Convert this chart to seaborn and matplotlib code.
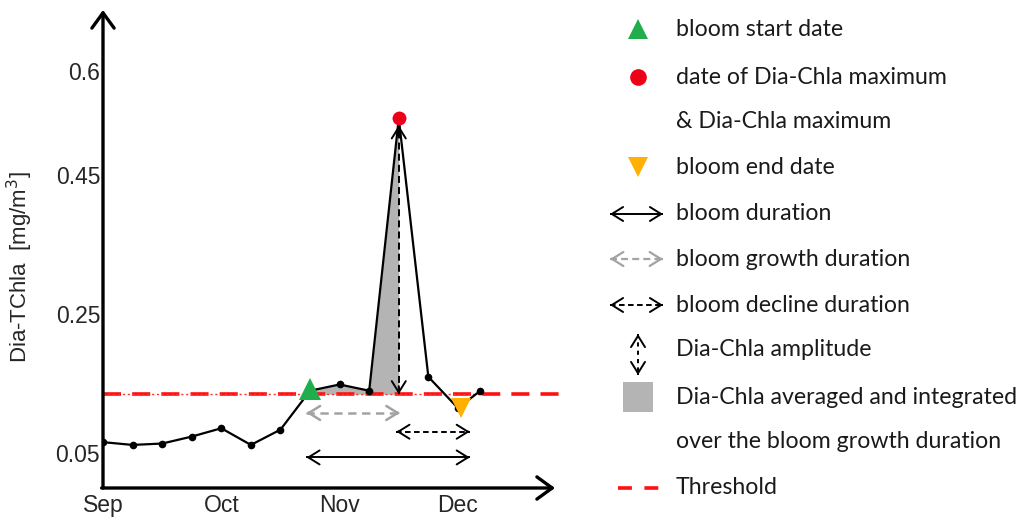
import numpy as np
import pandas as pd
import matplotlib
matplotlib.use("Agg")
import matplotlib.pyplot as plt
import seaborn as sns

# ------------------------------------------
# data (x in months after 1 Sep, 4 points per month)
# ------------------------------------------
months = ["Sep", "Oct", "Nov", "Dec"]
month_pos = [0, 1, 2, 3]
time = [0.0, 0.25, 0.5, 0.75, 1.0, 1.25, 1.5, 1.75, 2.0, 2.25, 2.5, 2.75, 3.0, 3.19]
chla = [0.066, 0.062, 0.064, 0.074, 0.086, 0.062, 0.084, 0.140, 0.149, 0.140, 0.532, 0.160, 0.115, 0.140]
threshold = 0.135

i_start, i_peak, i_end = 7, 10, 12
growth_arrow = [1.72, 2.51]
decline_arrow = [2.48, 3.10]
duration_arrow = [1.72, 3.10]

y_major = [0.05, 0.25, 0.45, 0.6]
y_minor = [0.01, 0.09, 0.13, 0.17, 0.21, 0.29, 0.33, 0.37, 0.41, 0.48, 0.51, 0.54, 0.57]

legend_labels = ["bloom start date", "date of Dia-Chla maximum", "& Dia-Chla maximum",
                 "bloom end date", "bloom duration", "bloom growth duration",
                 "bloom decline duration", "Dia-Chla amplitude",
                 "Dia-Chla averaged and integrated", "over the bloom growth duration",
                 "Threshold"]

df = pd.DataFrame({"time": time, "chla": chla})

sns.set_style("white")
plt.rcParams["font.family"] = ["Liberation Sans", "DejaVu Sans"]
plt.rcParams["lines.scale_dashes"] = False

GREEN = "#1fae4b"
RED = "#ee0018"
ORANGE = "#ffb000"
GREY = "#b4b4b4"
LGREY = "#a3a3a3"


def double_arrow(ax, x0, y0, x1, y1, color, lw, dashes=None, ms=18):
    kw = dict(color=color, lw=lw, solid_capstyle="butt", dash_capstyle="butt")
    if dashes is not None:
        kw["dashes"] = dashes
    ax.plot([x0, x1], [y0, y1], **kw)
    head = dict(arrowstyle="->,head_length=0.45,head_width=0.28", color=color,
                lw=lw, shrinkA=0, shrinkB=0, mutation_scale=ms)
    for (xa, ya), (xb, yb) in [((x0, y0), (x1, y1)), ((x1, y1), (x0, y0))]:
        ax.annotate("", xy=(xb, yb), xytext=(xa + 0.97 * (xb - xa), ya + 0.97 * (yb - ya)),
                    arrowprops=head, annotation_clip=False)


fig = plt.figure(figsize=(10.24, 5.24), dpi=100)
ax = fig.add_axes([103 / 1024, 36 / 524, 462 / 1024, 478 / 524])
ax.set_xlim(0, 3.905)
ax.set_ylim(0, 0.688)

# grey area over the growth phase
ax.fill_between(df["time"][i_start:i_peak + 1], df["chla"][i_start:i_peak + 1], threshold,
                color=GREY, lw=0, zorder=1)

# threshold line
ax.axhline(threshold, color="#ff1010", lw=2.6, dashes=(13, 8), zorder=2)
ax.plot([0, time[-1]], [threshold, threshold], color="#ff3030", lw=1.0, dashes=(1.5, 2), zorder=2)

sns.lineplot(data=df, x="time", y="chla", ax=ax, color="black", lw=1.6,
             marker="o", markersize=5.5, markeredgewidth=0, zorder=4)

# arrows
double_arrow(ax, growth_arrow[0], 0.108, growth_arrow[1], 0.108, LGREY, 1.8, dashes=(6, 4))
double_arrow(ax, decline_arrow[0], 0.081, decline_arrow[1], 0.081, "black", 1.4, dashes=(4, 2.5))
double_arrow(ax, duration_arrow[0], 0.044, duration_arrow[1], 0.044, "black", 1.4)
double_arrow(ax, time[i_peak], threshold, time[i_peak], chla[i_peak] - 0.01, "black", 1.4,
             dashes=(5, 3))

# special markers
ax.plot(time[i_start], chla[i_start] + 0.002, marker="^", color=GREEN, ms=16, mew=0, zorder=5)
ax.plot(time[i_peak], chla[i_peak], marker="o", color=RED, ms=10, mew=0, zorder=5)
ax.plot(time[i_end] + 0.03, chla[i_end], marker="v", color=ORANGE, ms=15, mew=0, zorder=5)

# axes with arrow heads
for s in ax.spines.values():
    s.set_visible(False)
axis_head = dict(arrowstyle="->,head_length=0.55,head_width=0.4", color="black", lw=2.4,
                 shrinkA=0, shrinkB=0, mutation_scale=20)
ax.annotate("", xy=(0, 1), xytext=(0, 0), xycoords="axes fraction", arrowprops=axis_head,
            annotation_clip=False)
ax.annotate("", xy=(452 / 462, 0), xytext=(-0.003, 0), xycoords="axes fraction",
            arrowprops=axis_head, annotation_clip=False)

ax.set_xticks(month_pos)
ax.set_xticklabels(months)
ax.set_xticks(np.arange(0, 3.01, 0.2), minor=True)
ax.set_yticks(y_major)
ax.set_yticklabels([f"{v:g}" for v in y_major])
ax.set_yticks(y_minor, minor=True)
ax.tick_params(axis="both", which="both", direction="in", width=1.3, labelsize=16.5, color="black")
ax.tick_params(axis="y", which="major", length=7.5, pad=2)
ax.tick_params(axis="y", which="minor", length=4.5)
ax.tick_params(axis="x", which="both", length=4, pad=4)
ax.set_xlabel("")
ax.set_ylabel("")
fig.text(20 / 1024, 1 - 267 / 524, "Dia-TChla  [mg/m$^3$]", rotation=90, ha="center",
         va="center", fontsize=16)

# ------------------------------------------
# legend drawn by hand on the right
# ------------------------------------------
lg = fig.add_axes([0, 0, 1, 1], facecolor="none")
lg.set_xlim(0, 1024)
lg.set_ylim(524, 0)
lg.axis("off")

rows = [29, 77, 122, 167, 214, 259, 305, 350, 397, 441, 488]
for lab, yy in zip(legend_labels, rows):
    lg.text(676, yy, lab, fontsize=16.7, family=["Lato", "DejaVu Sans"], va="center",
            ha="left", color="#1a1a1a")

lg.plot(638, rows[0], marker="^", color=GREEN, ms=15, mew=0)
lg.plot(638, rows[1], marker="o", color=RED, ms=12, mew=0)
lg.plot(638, rows[3], marker="v", color=ORANGE, ms=15, mew=0)
double_arrow(lg, 610, rows[4], 663, rows[4], "black", 1.4)
double_arrow(lg, 610, rows[5], 663, rows[5], LGREY, 1.6, dashes=(5, 3))
double_arrow(lg, 610, rows[6], 663, rows[6], "black", 1.4, dashes=(4, 2.5))
double_arrow(lg, 638, 334, 638, 375, "black", 1.4, dashes=(3, 3))
lg.plot(638, rows[8], marker="s", color=GREY, ms=21, mew=0)
lg.plot([618, 660], [rows[10], rows[10]], color="#ff1010", lw=2.6, dashes=(10, 9))

fig.savefig("out.png", dpi=100)
